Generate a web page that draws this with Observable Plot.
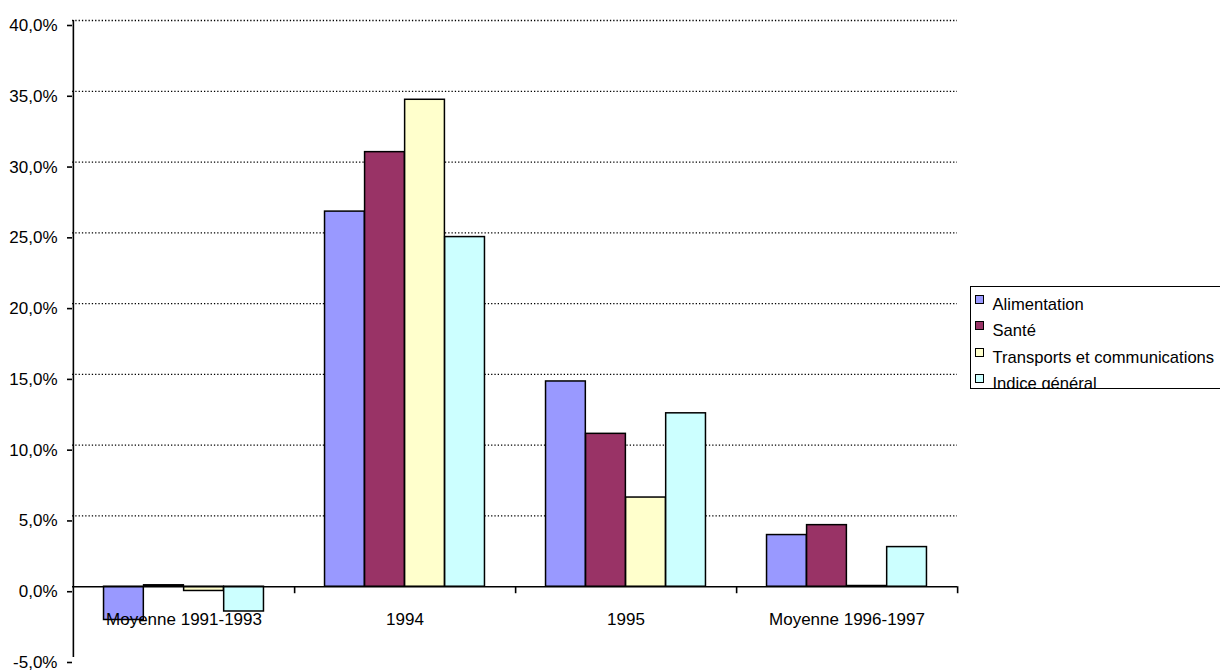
<!DOCTYPE html>
<html>
<head>
<meta charset="utf-8">
<script src="https://cdn.jsdelivr.net/npm/d3@7"></script>
<script src="https://cdn.jsdelivr.net/npm/@observablehq/plot@0.6"></script>
<style>
  html, body { margin: 0; padding: 0; background: #fff; overflow: hidden; }
  #wrap { position: relative; width: 1220px; height: 671px; font-family: "Liberation Sans", Arial, sans-serif; }
  #legend { position: absolute; left: 970px; top: 286px; width: 262px; height: 101px; border: 1.5px solid #000; overflow: hidden; background: #fff; }
  .row { position: absolute; left: 0; height: 20px; font-size: 16.6px; line-height: 20px; white-space: nowrap; color: #000; }
  .sw { position: absolute; left: 3.5px; top: 0; width: 7px; height: 7px; border: 1.5px solid #000; }
  .lab { position: absolute; left: 21.5px; top: 0; }
</style>
</head>
<body>
<div id="wrap"><div id="chart"></div><div id="legend"></div></div>
<script>
const groups = ["Moyenne 1991-1993", "1994", "1995", "Moyenne 1996-1997"];
const seriesNames = ["Alimentation", "Santé", "Transports et communications", "Indice général"];
const alimentation = [-2.35, 26.5, 14.5, 3.65];
const sante = [0.1, 30.7, 10.8, 4.35];
const transports = [-0.3, 34.4, 6.3, 0.05];
const indice = [-1.75, 24.7, 12.25, 2.8];
const colors = ["#9999FF", "#993366", "#FFFFCC", "#CCFFFF"];
const yTicks = [-5, 0, 5, 10, 15, 20, 25, 30, 35, 40];
const gridTicks = [5, 10, 15, 20, 25, 30, 35, 40];

const seriesValues = [alimentation, sante, transports, indice];

const W = 1220, H = 671, mL = 72, mR = 263, mT = 20, mB = 14;
const bw = (W - mL - mR) / groups.length;
const barW = bw * 0.181;
const pad = (bw - barW * seriesNames.length) / 2;

const barMarks = seriesNames.map((name, i) => {
  const data = groups.map((g, j) => ({group: g, series: name, value: seriesValues[i][j]}));
  return Plot.barY(data, {
    x: "group", y1: 0, y2: "value",
    fill: colors[i], stroke: "#000", strokeWidth: 1.5,
    insetLeft: pad + barW * i,
    insetRight: bw - pad - barW * (i + 1)
  });
});

const fmt = d => d.toFixed(1).replace(".", ",") + "%";

const chart = Plot.plot({
  width: W, height: H,
  marginLeft: mL, marginRight: mR, marginTop: mT, marginBottom: mB,
  style: {fontFamily: "'Liberation Sans', Arial, sans-serif", fontSize: "17px", color: "#000", background: "#fff"},
  x: {type: "band", domain: groups, padding: 0, axis: null},
  y: {domain: [-5, 40], axis: null},
  marks: [
    Plot.ruleY(gridTicks, {stroke: "#000", strokeWidth: 1.3, strokeDasharray: "1.3,2"}),
    ...barMarks,
    Plot.ruleY([0], {stroke: "#000", strokeWidth: 1.6}),
    Plot.ruleX(groups, {x: d => d, y1: 0, y2: 0, dx: bw / 2, insetBottom: -7, stroke: "#000", strokeWidth: 1.6}),
    Plot.ruleX([groups[0]], {x: d => d, y1: -5, y2: 40, dx: -bw / 2, stroke: "#000", strokeWidth: 1.6}),
    Plot.axisY({ticks: yTicks, tickFormat: fmt, tickSize: 5, tickPadding: 10, dy: 5, label: null, fontSize: 17, strokeWidth: 1.6}),
    Plot.text(groups, {x: d => d, y: d => 0, dy: 33, text: d => d, fontSize: 17, fill: "#000"})
  ]
});
document.getElementById("chart").appendChild(chart);

const legend = document.getElementById("legend");
seriesNames.forEach((name, i) => {
  const row = document.createElement("div");
  row.className = "row";
  row.style.top = (7.5 + i * 26.6) + "px";
  const sw = document.createElement("div");
  sw.className = "sw";
  sw.style.background = colors[i];
  const lab = document.createElement("div");
  lab.className = "lab";
  lab.textContent = name;
  row.appendChild(sw);
  row.appendChild(lab);
  legend.appendChild(row);
});
</script>
</body>
</html>
